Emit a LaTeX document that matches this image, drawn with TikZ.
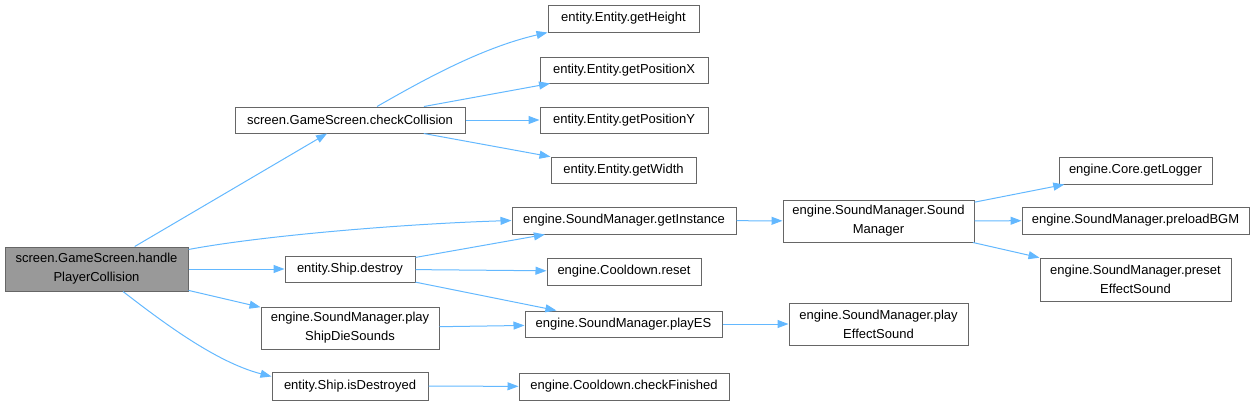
\documentclass[tikz,border=0pt]{standalone}
\usepackage{fontspec}
\setmainfont{Liberation Sans}
\usetikzlibrary{arrows.meta}
\definecolor{edgeblue}{HTML}{63B8FF}
\definecolor{boxgray}{HTML}{666666}
\definecolor{rootfill}{HTML}{999999}
\tikzset{
  fn/.style={draw=boxgray, line width=1pt, fill=white, inner sep=0pt, align=center,
    font=\fontsize{13}{19}\selectfont},
  rootfn/.style={fn, fill=rootfill},
  edge/.style={draw=edgeblue, line width=1pt, -{Triangle[length=11pt,width=8pt]}},
}
\begin{document}
\begin{tikzpicture}[x=1pt,y=1pt]
\useasboundingbox (0,0) rectangle (1254,-405);
% nodes
\node[rootfn, minimum width=183pt, minimum height=44pt] (root) at (96.5,-269) {screen.GameScreen.handle\\PlayerCollision};
\node[fn, minimum width=230pt, minimum height=26pt] (cc) at (350,-120) {screen.GameScreen.checkCollision};
\node[fn, minimum width=151pt, minimum height=27pt] (gh) at (623.5,-18.5) {entity.Entity.getHeight};
\node[fn, minimum width=168pt, minimum height=26pt] (gpx) at (624,-70) {entity.Entity.getPositionX};
\node[fn, minimum width=168pt, minimum height=26pt] (gpy) at (624,-120) {entity.Entity.getPositionY};
\node[fn, minimum width=145pt, minimum height=26pt] (gw) at (623.5,-170) {entity.Entity.getWidth};
\node[fn, minimum width=224pt, minimum height=27pt] (gi) at (624,-220.5) {engine.SoundManager.getInstance};
\node[fn, minimum width=130pt, minimum height=26pt] (destroy) at (350,-269) {entity.Ship.destroy};
\node[fn, minimum width=154pt, minimum height=27pt] (reset) at (624,-271.5) {engine.Cooldown.reset};
\node[fn, minimum width=178pt, minimum height=42pt] (psds) at (350,-328) {engine.SoundManager.play\\ShipDieSounds};
\node[fn, minimum width=197pt, minimum height=26pt] (pes) at (623.5,-324) {engine.SoundManager.playES};
\node[fn, minimum width=156pt, minimum height=28pt] (isd) at (350,-386) {entity.Ship.isDestroyed};
\node[fn, minimum width=210pt, minimum height=27pt] (cf) at (624,-386.5) {engine.Cooldown.checkFinished};
\node[fn, minimum width=191pt, minimum height=42pt] (sm) at (878.5,-221) {engine.SoundManager.Sound\\Manager};
\node[fn, minimum width=153pt, minimum height=27pt] (gl) at (1135.5,-170.5) {engine.Core.getLogger};
\node[fn, minimum width=227pt, minimum height=27pt] (pbgm) at (1135.5,-220.5) {engine.SoundManager.preloadBGM};
\node[fn, minimum width=191pt, minimum height=43pt] (pset) at (1135.5,-279.5) {engine.SoundManager.preset\\EffectSound};
\node[fn, minimum width=179pt, minimum height=42pt] (pef) at (878.5,-324) {engine.SoundManager.play\\EffectSound};
% edges
\draw[edge] (root) -- (cc);
\draw[edge] ([yshift=-3pt]root.north east) .. controls (260,-236) and (400,-224) .. (gi.west);
\draw[edge] (root) -- (destroy);
\draw[edge] (root) -- (psds);
\draw[edge] ([xshift=26.5pt]root.south) .. controls (160,-320) and (215,-362) .. ([yshift=-5pt]isd.north west);
\draw[edge] ([xshift=27pt]cc.north) .. controls (420,-82) and (480,-48) .. (gh.south west);
\draw[edge] (cc) -- (gpx);
\draw[edge] (cc) -- (gpy);
\draw[edge] (cc) -- (gw);
\draw[edge] (destroy) -- (gi);
\draw[edge] (destroy) -- (reset);
\draw[edge] (destroy) -- (pes);
\draw[edge] (psds) -- (pes);
\draw[edge] (isd) -- (cf);
\draw[edge] (gi) -- (sm);
\draw[edge] (pes) -- (pef);
\draw[edge] (sm) -- (gl);
\draw[edge] (sm) -- (pbgm);
\draw[edge] (sm) -- (pset);
\end{tikzpicture}
\end{document}
